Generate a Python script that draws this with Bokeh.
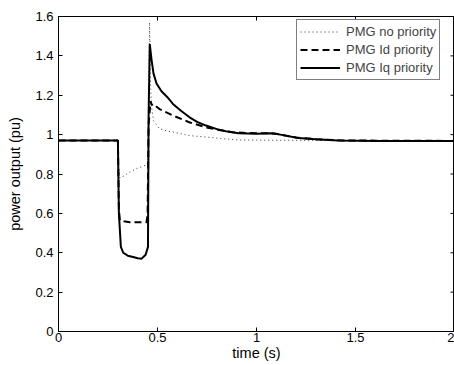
import math
from bokeh.plotting import figure
from bokeh.models import Legend, LegendItem, FixedTicker, Range1d
from bokeh.embed import file_html
from bokeh.resources import INLINE

# --- data ---
t_none = [0, 0.30, 0.302, 0.31, 0.33, 0.36, 0.40, 0.43, 0.45, 0.455, 0.46, 0.465, 0.47, 0.48, 0.51, 0.55, 0.58, 0.66, 0.745, 0.82, 0.91, 1.0, 1.2, 1.5, 2.0]
p_none = [0.97, 0.97, 0.85, 0.78, 0.79, 0.81, 0.83, 0.84, 0.85, 1.10, 1.57, 1.25, 1.14, 1.07, 1.03, 1.018, 1.013, 0.995, 0.988, 0.98, 0.973, 0.972, 0.971, 0.970, 0.970]

t_id = [0, 0.30, 0.305, 0.31, 0.33, 0.36, 0.40, 0.445, 0.45, 0.455, 0.465, 0.47, 0.478, 0.51, 0.578, 0.66, 0.745, 0.81, 0.88, 0.95, 1.05, 1.1, 1.2, 1.3, 1.45, 2.0]
p_id = [0.97, 0.97, 0.62, 0.565, 0.56, 0.555, 0.555, 0.555, 0.60, 1.05, 1.17, 1.15, 1.156, 1.13, 1.097, 1.063, 1.037, 1.024, 1.012, 1.008, 1.007, 1.004, 0.985, 0.977, 0.97, 0.968]

t_iq = [0, 0.30, 0.305, 0.315, 0.327, 0.35, 0.377, 0.40, 0.42, 0.44, 0.452, 0.455, 0.461, 0.47, 0.48, 0.495, 0.52, 0.55, 0.578, 0.62, 0.662, 0.70, 0.745, 0.80, 0.845, 0.91, 1.0, 1.08, 1.12, 1.21, 1.3, 1.41, 1.6, 2.0]
p_iq = [0.97, 0.97, 0.60, 0.43, 0.40, 0.385, 0.378, 0.372, 0.37, 0.39, 0.43, 1.10, 1.46, 1.38, 1.31, 1.26, 1.22, 1.19, 1.156, 1.12, 1.088, 1.065, 1.046, 1.028, 1.017, 1.007, 1.005, 1.007, 1.0, 0.983, 0.977, 0.97, 0.968, 0.968]

x_ticks = [0, 0.5, 1, 1.5, 2]
x_labels = ["0", "0.5", "1", "1.5", "2"]
y_ticks = [0, 0.2, 0.4, 0.6, 0.8, 1.0, 1.2, 1.4, 1.6]
y_labels = ["0", "0.2", "0.4", "0.6", "0.8", "1", "1.2", "1.4", "1.6"]
names = ["PMG no priority", "PMG Id priority", "PMG Iq priority"]
x_max = 2
y_max = 1.6

FONT = "Liberation Sans"

p = figure(width=454, height=365, output_backend="svg", toolbar_location=None,
           x_range=Range1d(0, x_max), y_range=Range1d(0, y_max),
           min_border_left=58, min_border_right=0, min_border_top=16, min_border_bottom=34)
p.xgrid.visible = False
p.ygrid.visible = False
p.outline_line_color = "black"
p.outline_line_width = 1
p.background_fill_color = "white"
p.border_fill_color = "white"

r1 = p.line(t_none, p_none, line_color="#333333", line_width=1, line_dash="1 3")
r2 = p.line(t_id, p_id, line_color="black", line_width=2, line_dash="7 4")
r3 = p.line(t_iq, p_iq, line_color="black", line_width=2)

# inner tick marks on the top and right edges (box style)
p.scatter(x_ticks, [y_max] * len(x_ticks), marker="dash", angle=math.pi / 2, size=8,
          line_color="black", line_width=1)
p.scatter([x_max] * len(y_ticks), y_ticks, marker="dash", size=8,
          line_color="black", line_width=1)

def style_axis(ax, ticks, labels, lab_off, ax_off):
    ax.ticker = FixedTicker(ticks=ticks)
    ax.major_label_overrides = {t: l for t, l in zip(ticks, labels)}
    ax.major_tick_in = 4
    ax.major_tick_out = 0
    ax.minor_tick_line_color = None
    ax.axis_line_color = "black"
    ax.major_tick_line_color = "black"
    ax.major_label_text_font = FONT
    ax.major_label_text_font_size = "13px"
    ax.major_label_text_color = "black"
    ax.major_label_standoff = lab_off
    ax.axis_label_text_font = FONT
    ax.axis_label_text_font_size = "14.5px"
    ax.axis_label_text_font_style = "normal"
    ax.axis_label_text_color = "black"
    ax.axis_label_standoff = ax_off

style_axis(p.xaxis[0], x_ticks, x_labels, 1, 0)
style_axis(p.yaxis[0], y_ticks, y_labels, 5, 9)
p.xaxis[0].axis_label = "time (s)"
p.yaxis[0].axis_label = "power output (pu)"

legend = Legend(items=[LegendItem(label=names[0], renderers=[r1]),
                       LegendItem(label=names[1], renderers=[r2]),
                       LegendItem(label=names[2], renderers=[r3])],
                location=(238, 251))
legend.border_line_color = "black"
legend.border_line_width = 1
legend.label_text_font = FONT
legend.label_text_font_size = "13px"
legend.glyph_width = 40
legend.glyph_height = 17
legend.label_height = 17
legend.spacing = 1
legend.padding = 3
legend.margin = 0
legend.label_standoff = 6
legend.background_fill_alpha = 1
p.add_layout(legend, "center")

open("out.html", "w").write(file_html(p, INLINE))
